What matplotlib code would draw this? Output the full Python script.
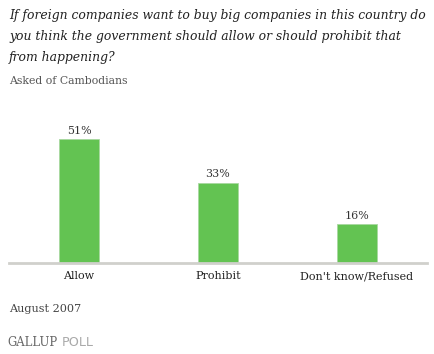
import matplotlib
matplotlib.use("Agg")
import matplotlib.pyplot as plt

categories = ["Allow", "Prohibit", "Don't know/Refused"]
values = [51, 33, 16]
value_labels = ["51%", "33%", "16%"]

title_lines = [
    "If foreign companies want to buy big companies in this country do",
    "you think the government should allow or should prohibit that",
    "from happening?",
]
subtitle = "Asked of Cambodians"
date_note = "August 2007"

W, H = 434, 354
fig = plt.figure(figsize=(W / 100, H / 100), dpi=100)
fig.patch.set_facecolor("white")

SERIF = ["DejaVu Serif"]

# axes placed in pixel terms: left 9, right 427, baseline at y=263
base_px = 263
ymax = 60
px_per_unit = 2.43
top_px = base_px - ymax * px_per_unit
ax = fig.add_axes([9 / W, 1 - base_px / H, (427 - 9) / W, (base_px - top_px) / H])

x = range(len(categories))
ax.bar(x, values, width=0.288, color="#63c352", edgecolor="#a8d8a0", linewidth=0.6, zorder=2)
ax.set_xlim(-0.504, 2.504)
ax.set_ylim(0, ymax)

for xi, v, lab in zip(x, values, value_labels):
    ax.annotate(lab, (xi, v), textcoords="offset points", xytext=(0, 2.5),
                ha="center", va="bottom", fontsize=7.9, family=SERIF, color="#333333")

for s in ["top", "right", "left"]:
    ax.spines[s].set_visible(False)
ax.spines["bottom"].set_color("#d0d0cc")
ax.spines["bottom"].set_linewidth(2)
ax.set_yticks([])
ax.set_xticks(list(x))
ax.set_xticklabels(categories, family=SERIF, fontsize=8, color="#222222")
ax.tick_params(axis="x", length=0, pad=6)

# title block, font size fitted so the first line spans ~415 px like the reference
renderer = fig.canvas.get_renderer()
probe = fig.text(0, 0, title_lines[0], fontsize=10, style="italic", family=SERIF)
w10 = probe.get_window_extent(renderer).width
probe.remove()
title_size = 10 * 415 / w10

for i, line in enumerate(title_lines):
    fig.text(9 / W, 1 - (16 + i * 20.5) / H, line, ha="left", va="center",
             fontsize=title_size, style="italic", family=SERIF, color="#222222")
fig.text(9 / W, 1 - 81 / H, subtitle, ha="left", va="center",
         fontsize=7.8, family=SERIF, color="#555555")

fig.text(9 / W, 1 - 309 / H, date_note, ha="left", va="center",
         fontsize=8.1, family=SERIF, color="#444444")
fig.text(7 / W, 1 - 343 / H, "GALLUP", ha="left", va="center",
         fontsize=8.4, family=SERIF, color="#666666")
fig.text(62 / W, 1 - 343 / H, "POLL", ha="left", va="center",
         fontsize=9.2, family=["DejaVu Sans"], color="#aaaaaa")

fig.savefig("out.png", dpi=100, facecolor="white")
